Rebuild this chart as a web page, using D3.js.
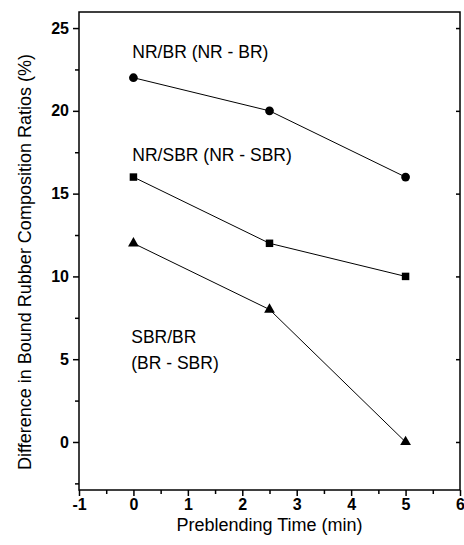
<!DOCTYPE html>
<html>
<head>
<meta charset="utf-8">
<script src="https://cdn.jsdelivr.net/npm/d3@7"></script>
<style>
  body { margin: 0; background: #fff; }
  svg { display: block; font-family: "Liberation Sans", Arial, sans-serif; }
</style>
</head>
<body>
<svg id="chart" width="464" height="545"></svg>
<script>
const times = [0, 2.5, 5];
const nrBr = [22, 20, 16];
const nrSbr = [16, 12, 10];
const sbrBr = [12, 8, 0];
const xTicks = [-1, 0, 1, 2, 3, 4, 5, 6];
const yTicks = [0, 5, 10, 15, 20, 25];

const series = [
  { name: "NR/BR", values: nrBr, symbol: d3.symbolCircle, size: 60 },
  { name: "NR/SBR", values: nrSbr, symbol: d3.symbolSquare, size: 56 },
  { name: "SBR/BR", values: sbrBr, symbol: d3.symbolTriangle, size: 50 }
];

const labels = [
  { lines: ["NR/BR (NR - BR)"], x: -0.02, y: 23.2 },
  { lines: ["NR/SBR (NR - SBR)"], x: -0.02, y: 17.0 },
  { lines: ["SBR/BR", "(BR - SBR)"], x: -0.04, y: 6.0 }
];

const margin = { left: 79, right: 4, top: 12, bottom: 55 };
const width = 464, height = 545;
const svg = d3.select("#chart");

const x = d3.scaleLinear().domain([-1, 6]).range([margin.left, width - margin.right]);
const y = d3.scaleLinear().domain([-2.9, 25.97]).range([height - margin.bottom, margin.top]);

// frame
svg.append("rect")
  .attr("x", x(-1)).attr("y", y(25.97))
  .attr("width", x(6) - x(-1)).attr("height", y(-2.9) - y(25.97))
  .attr("fill", "none").attr("stroke", "#000").attr("stroke-width", 1.5);

// bottom axis
const xAxis = svg.append("g").attr("transform", `translate(0,${y(-2.9)})`);
xAxis.call(d3.axisBottom(x).tickValues(xTicks).tickSize(6).tickPadding(3).tickFormat(d => String(d)));
xAxis.append("g").call(d3.axisBottom(x).tickValues(d3.range(-0.5, 6, 1)).tickSize(4).tickFormat(""));

// left axis
const yAxis = svg.append("g").attr("transform", `translate(${x(-1)},0)`);
yAxis.call(d3.axisLeft(y).tickValues(yTicks).tickSize(6).tickPadding(4));
yAxis.append("g").call(d3.axisLeft(y).tickValues([-2.5, 2.5, 7.5, 12.5, 17.5, 22.5]).tickSize(4).tickFormat(""));

// right side inner ticks
const rAxis = svg.append("g").attr("transform", `translate(${x(6)},0)`);
rAxis.call(d3.axisLeft(y).tickValues(yTicks).tickSize(4).tickFormat(""));

svg.selectAll(".domain").remove();
svg.selectAll(".tick line").attr("stroke", "#000").attr("stroke-width", 1.5);
svg.selectAll(".tick text")
  .attr("font-size", 16).attr("font-weight", "bold").attr("font-family", "Liberation Sans, Arial, sans-serif")
  .attr("fill", "#000");

// lines & markers
const line = d3.line().x((d, i) => x(times[i])).y(d => y(d));
series.forEach(s => {
  svg.append("path")
    .attr("d", line(s.values))
    .attr("fill", "none").attr("stroke", "#000").attr("stroke-width", 1);
  svg.selectAll(null)
    .data(s.values)
    .enter().append("path")
    .attr("d", d3.symbol().type(s.symbol).size(s.size))
    .attr("transform", (d, i) => `translate(${x(times[i])},${y(d)})`)
    .attr("fill", "#000");
});

// series labels
labels.forEach(l => {
  l.lines.forEach((t, j) => {
    svg.append("text")
      .attr("x", x(l.x)).attr("y", y(l.y) + j * 26)
      .attr("font-size", 17.5).attr("fill", "#000")
      .text(t);
  });
});

// axis titles
svg.append("text")
  .attr("x", (x(-1) + x(6)) / 2).attr("y", 531)
  .attr("text-anchor", "middle").attr("font-size", 18)
  .text("Preblending Time (min)");

svg.append("text")
  .attr("transform", `translate(31,${262}) rotate(-90)`)
  .attr("text-anchor", "middle").attr("font-size", 18)
  .text("Difference in Bound Rubber Composition Ratios (%)");
</script>
</body>
</html>
